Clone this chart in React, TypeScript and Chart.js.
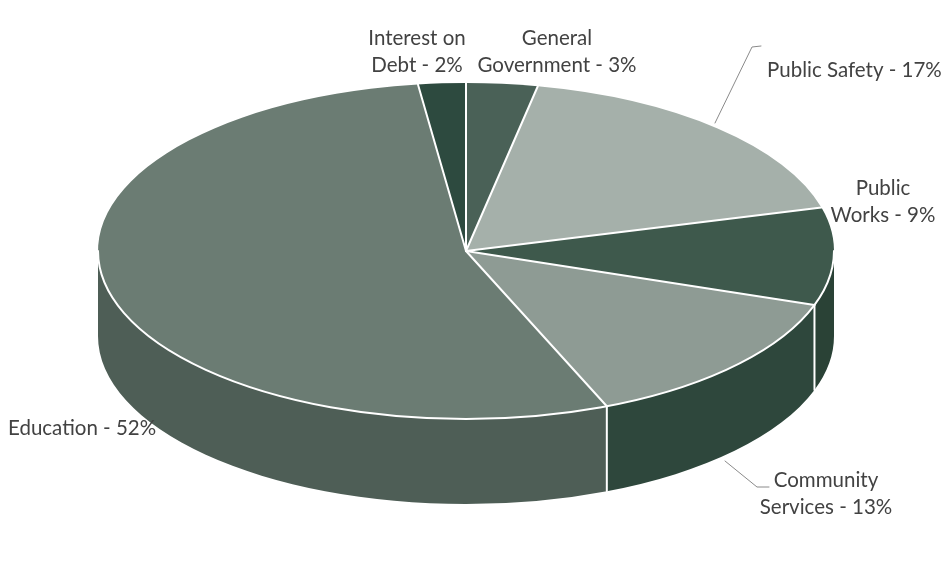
import React, { useEffect, useRef } from "react";
import { Chart, registerables } from "chart.js";

Chart.register(...registerables);

// ---- data ----
const categories = [
  "General Government",
  "Public Safety",
  "Public Works",
  "Community Services",
  "Education",
  "Interest on Debt",
];
const percentages = [3, 17, 9, 13, 52, 2];

// ---- styles ----
const topColors = ["#4a6157", "#a5b0aa", "#3e594c", "#8e9b94", "#6b7c73", "#2d4a3f"];
const sideColors = ["#34493f", "#7d8a83", "#2a4236", "#2e473c", "#4e5e56", "#213a2f"];

const ELLIPSE = { cx: 466, cy: 251, rx: 368, ry: 168, depth: 85 };
const FONT = "20.5px Lato, 'Open Sans', sans-serif";
const TEXT_COLOR = "#424242";

// label layout: index into categories, words on first line (0 = single line), anchor
const LABEL_LAYOUT = [
  { i: 0, split: 1, x: 557, y: 38, align: "center" },
  { i: 1, split: 0, x: 767, y: 70, align: "left" },
  { i: 2, split: 1, x: 883, y: 188, align: "center" },
  { i: 3, split: 1, x: 826, y: 480, align: "center" },
  { i: 4, split: 0, x: 8, y: 428, align: "left" },
  { i: 5, split: 2, x: 417, y: 38, align: "center" },
];
const LINE_GAP = 27;

const LEADERS = [
  [[715, 123], [752, 47], [761, 46]],
  [[725, 461], [757, 487], [769, 487]],
];

function labelLines(i: number, split: number): string[] {
  const full = `${categories[i]} - ${percentages[i]}%`;
  if (!split) return [full];
  const words = full.split(" ");
  return [words.slice(0, split).join(" "), words.slice(split).join(" ")];
}

const pie3d = {
  id: "pie3d",
  beforeDatasetsDraw(chart: any) {
    const ctx: CanvasRenderingContext2D = chart.ctx;
    const arcs = chart.getDatasetMeta(0).data as any[];
    if (!arcs.length) return;
    const { cx, cy, rx, ry, depth } = ELLIPSE;
    arcs.forEach((arc, i) => {
      const s = Math.max(arc.startAngle, 0);
      const e = Math.min(arc.endAngle, Math.PI);
      if (e <= s) return;
      ctx.beginPath();
      ctx.ellipse(cx, cy, rx, ry, 0, s, e);
      ctx.lineTo(cx + rx * Math.cos(e), cy + depth + ry * Math.sin(e));
      ctx.ellipse(cx, cy + depth, rx, ry, 0, e, s, true);
      ctx.closePath();
      ctx.fillStyle = sideColors[i];
      ctx.fill();
    });
    const a0 = arcs[0];
    ctx.save();
    ctx.translate(cx, cy);
    ctx.scale(rx / a0.outerRadius, ry / a0.outerRadius);
    ctx.translate(-a0.x, -a0.y);
  },
  afterDatasetsDraw(chart: any) {
    const ctx: CanvasRenderingContext2D = chart.ctx;
    ctx.restore();
    const arcs = chart.getDatasetMeta(0).data as any[];
    const { cx, cy, rx, ry, depth } = ELLIPSE;
    ctx.save();
    ctx.strokeStyle = "#ffffff";
    ctx.lineWidth = 2;
    ctx.lineCap = "round";
    // rim on the front
    ctx.beginPath();
    ctx.ellipse(cx, cy, rx, ry, 0, 0, Math.PI);
    ctx.stroke();
    arcs.forEach((arc) => {
      const a = arc.startAngle;
      const px = cx + rx * Math.cos(a);
      const py = cy + ry * Math.sin(a);
      ctx.beginPath();
      ctx.moveTo(cx, cy);
      ctx.lineTo(px, py);
      ctx.stroke();
      const norm = ((a % (2 * Math.PI)) + 2 * Math.PI) % (2 * Math.PI);
      if (norm > 0.02 && norm < Math.PI - 0.02) {
        ctx.beginPath();
        ctx.moveTo(px, py);
        ctx.lineTo(px, py + depth);
        ctx.stroke();
      }
    });
    // leader lines
    ctx.strokeStyle = "#8a8a8a";
    ctx.lineWidth = 1;
    LEADERS.forEach((pts) => {
      ctx.beginPath();
      pts.forEach(([x, y], k) => (k ? ctx.lineTo(x, y) : ctx.moveTo(x, y)));
      ctx.stroke();
    });
    // labels
    ctx.font = FONT;
    ctx.fillStyle = TEXT_COLOR;
    ctx.textBaseline = "middle";
    LABEL_LAYOUT.forEach((L) => {
      ctx.textAlign = L.align as CanvasTextAlign;
      labelLines(L.i, L.split).forEach((t, k) => ctx.fillText(t, L.x, L.y + k * LINE_GAP));
    });
    ctx.restore();
  },
};

export default function App() {
  const ref = useRef<HTMLCanvasElement | null>(null);
  useEffect(() => {
    document.body.style.margin = "0";
    const canvas = ref.current;
    if (!canvas) return;
    const chart = new Chart(canvas, {
      type: "pie",
      data: {
        labels: categories,
        datasets: [
          {
            data: percentages,
            backgroundColor: topColors,
            borderWidth: 0,
            clip: false,
          } as any,
        ],
      },
      options: {
        animation: false,
        responsive: false,
        events: [],
        layout: { padding: 20 },
        plugins: { legend: { display: false }, tooltip: { enabled: false } },
      },
      plugins: [pie3d],
    });
    return () => chart.destroy();
  }, []);
  return (
    <div style={{ width: 943, height: 583, background: "#fff" }}>
      <canvas ref={ref} width={943} height={583} style={{ display: "block" }} />
    </div>
  );
}
